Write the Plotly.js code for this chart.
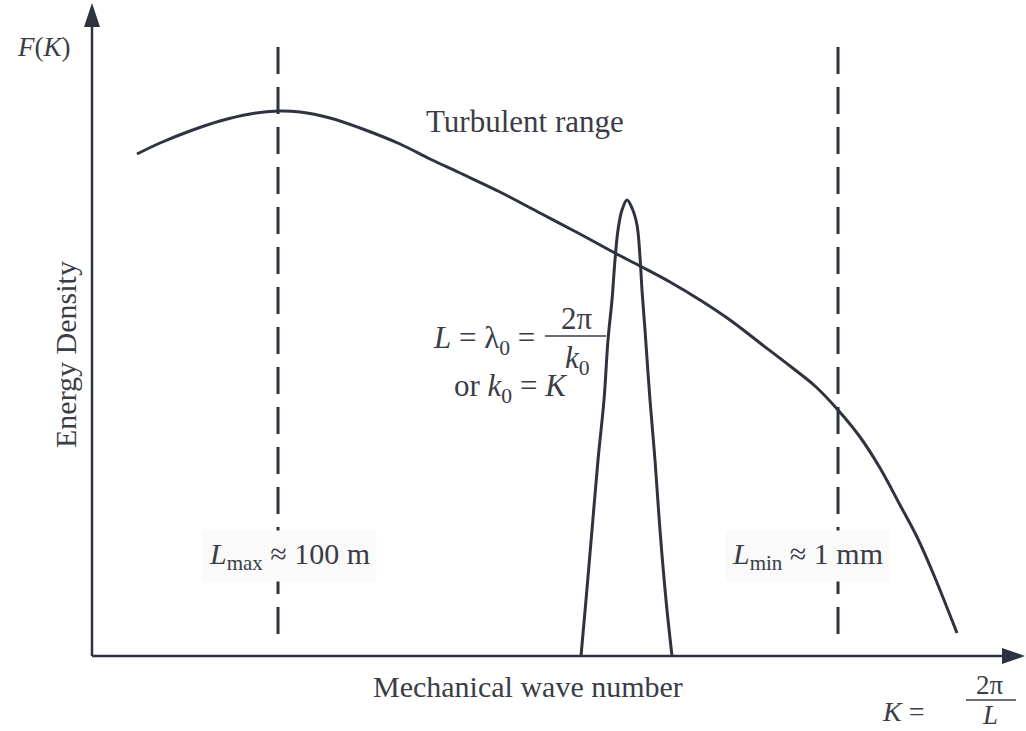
<!DOCTYPE html>
<html>
<head>
<meta charset="utf-8">
<script src="https://cdn.plot.ly/plotly-3.0.1.min.js"></script>
<style>
  html, body { margin: 0; padding: 0; background: #ffffff; }
  #chart { width: 1026px; height: 731px; }
</style>
</head>
<body>
<div id="chart"></div>
<script>
// Energy spectrum F(K) versus mechanical wave number K (schematic units).
const waveNumber = [45, 68, 98, 128, 158, 186, 208, 238, 268, 308, 338, 368, 408, 448, 488,
  521, 548, 578, 608, 638, 668, 698, 723, 746, 768, 788, 808, 825, 841, 865];
const energyDensity = [502, 513, 525, 535, 542, 545, 544, 538, 528, 512, 497, 483, 464, 443, 422,
  404, 390, 374, 356, 336, 313, 290, 270, 246, 219, 188, 151, 119, 83, 23];

// Narrow spectral line at k0
const lineWaveNumber = [489, 494, 500, 506, 512, 516, 520, 523, 526, 530, 535,
  540, 545, 548, 550, 553, 558, 563, 568, 574, 580];
const lineEnergy = [0, 56, 126, 196, 256, 316, 356, 396, 426, 446, 456,
  448, 431, 399, 366, 326, 256, 196, 126, 56, 0];

// Length-scale limits of the turbulent range
const scaleLimits = [186, 746];
const scaleLabels = ['<i>L</i><sub>max</sub> ≈ 100 m', '<i>L</i><sub>min</sub> ≈ 1 mm'];
const scaleLabelCenters = [197, 715];
const limitTop = 609;
const limitBottom = 20;

const ink = '#2f3340';
const textInk = '#3a3d46';
const serif = 'Liberation Serif, Times New Roman, serif';

const traces = [
  {
    x: waveNumber, y: energyDensity, mode: 'lines', type: 'scatter',
    line: { color: ink, width: 3, shape: 'spline', smoothing: 1 }, hoverinfo: 'skip'
  },
  {
    x: lineWaveNumber, y: lineEnergy, mode: 'lines', type: 'scatter',
    line: { color: ink, width: 3, shape: 'spline', smoothing: 1 }, hoverinfo: 'skip'
  }
];
scaleLimits.forEach(k => {
  traces.push({
    x: [k, k], y: [limitTop, limitBottom], mode: 'lines', type: 'scatter',
    line: { color: ink, width: 3, dash: '27px,13px' }, hoverinfo: 'skip'
  });
});

function txt(x, y, text, size, extra) {
  return Object.assign({
    x: x, y: y, xref: 'x', yref: 'y', text: text, showarrow: false,
    font: { family: serif, size: size, color: textInk },
    xanchor: 'center', yanchor: 'middle'
  }, extra || {});
}

const annotations = [
  txt(-48, 609, '<i>F</i>(<i>K</i>)', 27),
  txt(-27, 301, 'Energy Density', 30, { textangle: -90 }),
  txt(433, 535, 'Turbulent range', 31),
  txt(436, -30, 'Mechanical wave number', 30),
  // k0 relation
  txt(392, 316, '<i>L</i> = λ<sub>0</sub> =', 31),
  txt(485, 338, '2π', 31),
  txt(485, 296, '<i>k</i><sub>0</sub>', 31),
  txt(419, 268, 'or <i>k</i><sub>0</sub> = <i>K</i>', 31),
  // axis definition of K
  txt(811, -55, '<i>K</i> =', 28),
  txt(898, -29, '2π', 27),
  txt(898, -59, '<i>L</i>', 27)
];
scaleLimits.forEach((k, i) => {
  annotations.push(txt(scaleLabelCenters[i], 100, scaleLabels[i], 30, { bgcolor: '#fafafa', borderpad: 6 }));
});

const shapes = [
  // axes
  { type: 'line', xref: 'x', yref: 'y', x0: 0, y0: 0, x1: 0, y1: 632, line: { color: ink, width: 2.5 } },
  { type: 'line', xref: 'x', yref: 'y', x0: 0, y0: 0, x1: 912, y1: 0, line: { color: ink, width: 2.5 } },
  { type: 'path', xref: 'x', yref: 'y', path: 'M -8 629 L 8 629 L 0 653 Z', fillcolor: ink, line: { width: 0 } },
  { type: 'path', xref: 'x', yref: 'y', path: 'M 910 8 L 910 -8 L 933 0 Z', fillcolor: ink, line: { width: 0 } },
  // fraction bars
  { type: 'line', xref: 'x', yref: 'y', x0: 453, y0: 320, x1: 514, y1: 320, line: { color: textInk, width: 1.5 } },
  { type: 'line', xref: 'x', yref: 'y', x0: 874, y0: -44, x1: 924, y1: -44, line: { color: textInk, width: 1.5 } }
];

const layout = {
  width: 1026, height: 731,
  margin: { l: 0, r: 0, t: 0, b: 0 },
  paper_bgcolor: '#ffffff', plot_bgcolor: '#ffffff',
  showlegend: false,
  xaxis: { range: [-92, 934], visible: false, fixedrange: true },
  yaxis: { range: [-75, 656], visible: false, fixedrange: true },
  annotations: annotations,
  shapes: shapes
};

Plotly.newPlot('chart', traces, layout, { displayModeBar: false, staticPlot: true });
</script>
</body>
</html>
